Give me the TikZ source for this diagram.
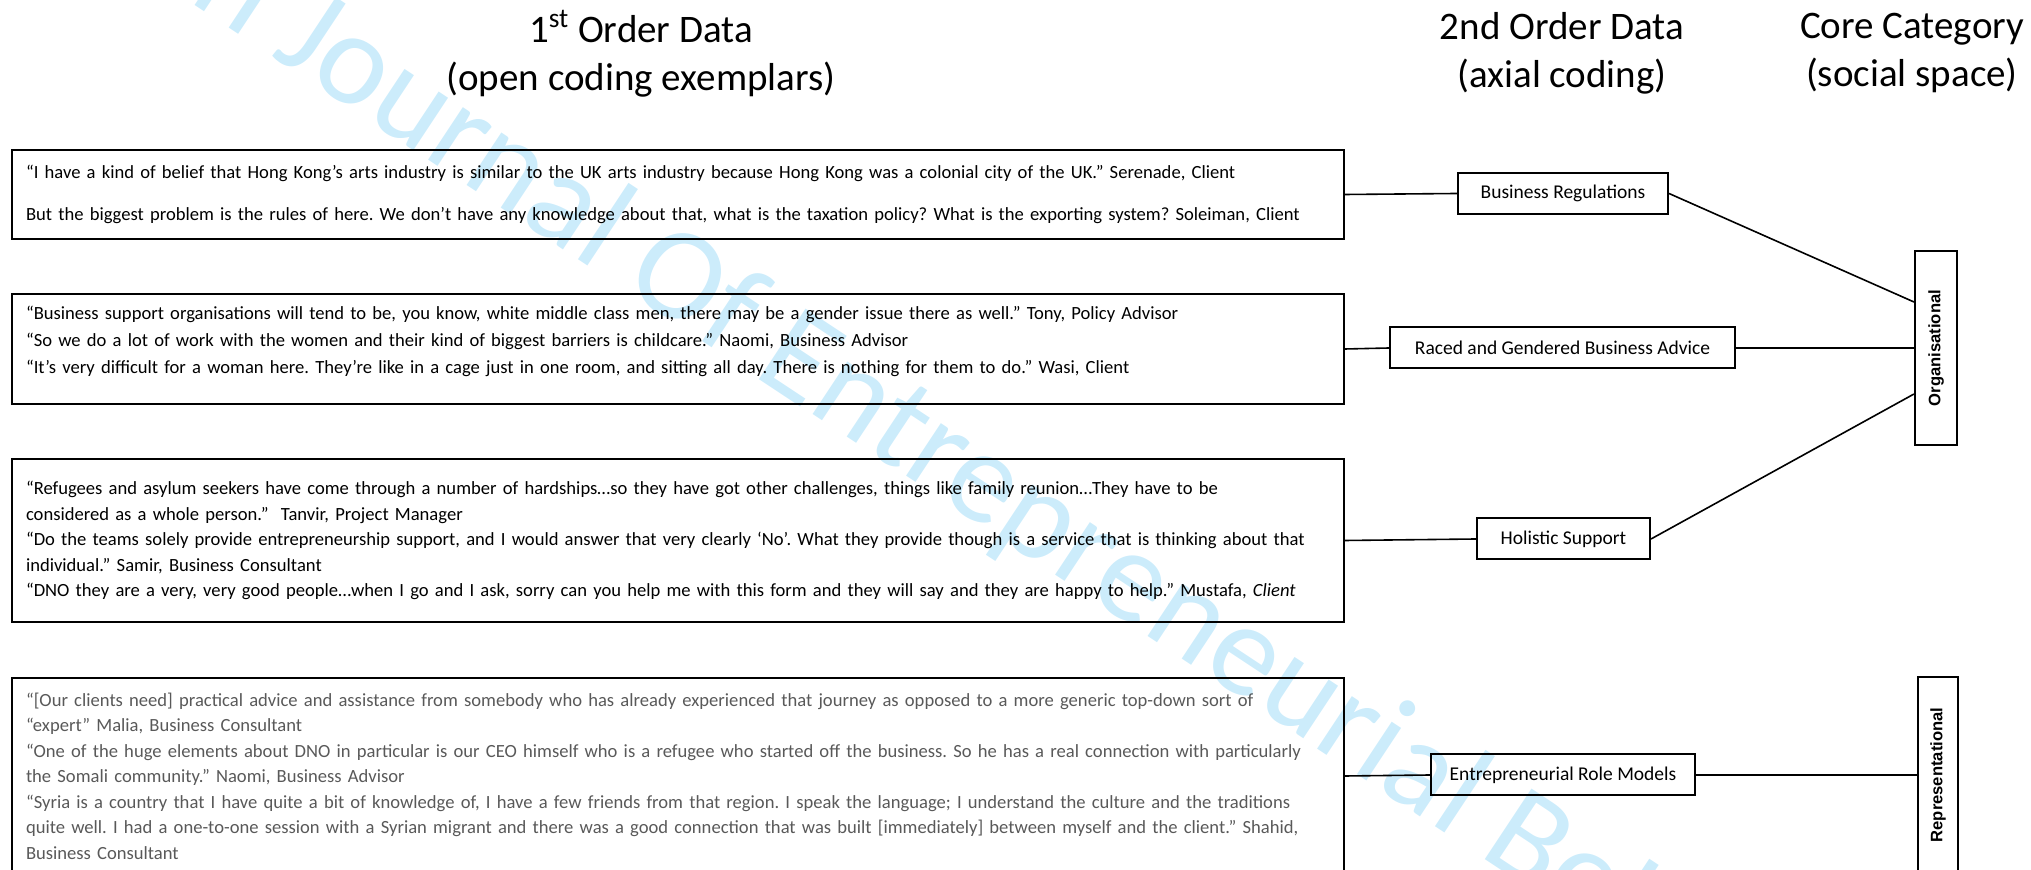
\documentclass[tikz,border=0pt]{standalone}
\usepackage{fontspec}
\setmainfont{Carlito}
\newfontfamily\corefont{Liberation Sans}
\definecolor{wmblue}{RGB}{204,236,251}
\definecolor{quotegrey}{RGB}{89,89,89}

\begin{document}
\frenchspacing
\begin{tikzpicture}[x=0.5pt, y=-0.5pt]
    \tikzstyle{every node}=[align = center]
    \tikzstyle{quote} = [draw, line width=1pt, anchor=north west, text width=652pt, inner xsep=7pt, inner ysep=0pt, align=left, font=\fontsize{9.3}{12.75}\selectfont]
    \tikzstyle{code} = [draw, line width=1pt, minimum height=20.5pt, inner xsep=0pt, font=\fontsize{9.75}{12}\selectfont]
    \tikzstyle{core} = [draw, line width=1pt, inner sep=0pt, font=\corefont\bfseries\fontsize{8.3}{10}\selectfont]
    \tikzstyle{heading} = [font=\fontsize{19.5}{24}\selectfont]
    \tikzstyle{link} = [line width=0.8pt]
    \useasboundingbox (0,0) rectangle (2031,870);
    \node[rotate=-33.5, anchor=base west, text=wmblue, font=\fontsize{66}{66}\selectfont] (mark) at (182,-3) {n Journal Of Entrepreneurial Beh};

    \node[heading] (first) at (641,54) {1\textsuperscript{st} Order Data\\(open coding exemplars)};
    \node[heading] (second) at (1562,53) {2nd Order Data\\(axial coding)};
    \node[heading] (third) at (1912,53) {Core Category\\(social space)};

    \node[quote, minimum height=44.5pt] (q1) at (11,149) {“I have a kind of belief that Hong Kong’s arts industry is similar to the UK arts industry because Hong Kong was a colonial city of the UK.” Serenade, Client\\[8.25pt]
        But the biggest problem is the rules of here. We don’t have any knowledge about that, what is the taxation policy? What is the exporting system? Soleiman, Client};
    \node[quote, minimum height=55pt] (q2) at (11,293) {“Business support organisations will tend to be, you know, white middle class men, there may be a gender issue there as well.” Tony, Policy Advisor\\[0.75pt]
        “So we do a lot of work with the women and their kind of biggest barriers is childcare.” Naomi, Business Advisor\\[0.75pt]
        “It’s very difficult for a woman here. They’re like in a cage just in one room, and sitting all day. There is nothing for them to do.” Wasi, Client\\[-4pt]\mbox{}};
    \node[quote, minimum height=81.5pt] (q3) at (11,458) {“Refugees and asylum seekers have come through a number of hardships…so they have got other challenges, things like family reunion…They have to be\\
        considered as a whole person.”~ Tanvir, Project Manager\\
        “Do the teams solely provide entrepreneurship support, and I would answer that very clearly ‘No’. What they provide though is a service that is thinking about that\\
        individual.” Samir, Business Consultant\\
        “DNO they are a very, very good people…when I go and I ask, sorry can you help me with this form and they will say and they are happy to help.” Mustafa, \textit{Client}};
    \node[quote, minimum height=98pt, text=quotegrey] (q4) at (11,677) {“[Our clients need] practical advice and assistance from somebody who has already experienced that journey as opposed to a more generic top-down sort of\\
        “expert” Malia, Business Consultant\\
        “One of the huge elements about DNO in particular is our CEO himself who is a refugee who started off the business. So he has a real connection with particularly\\
        the Somali community.” Naomi, Business Advisor\\
        “Syria is a country that I have quite a bit of knowledge of, I have a few friends from that region. I speak the language; I understand the culture and the traditions\\
        quite well. I had a one-to-one session with a Syrian migrant and there was a good connection that was built [immediately] between myself and the client.” Shahid,\\
        Business Consultant};

    \node[code, minimum width=105pt] (br) at (1563,193.5) {Business Regulations};
    \node[code, minimum width=172.5pt] (rg) at (1562.5,348) {Raced and Gendered Business Advice};
    \node[code, minimum width=86.5pt] (hs) at (1563.5,539) {Holistic Support};
    \node[code, minimum width=132pt] (erm) at (1563,775) {Entrepreneurial Role Models};

    \node[core, minimum width=21pt, minimum height=97pt] (org) at (1936,348) {\rotatebox{90}{Organisational}};
    \node[core, minimum width=20pt, minimum height=98pt] (rep) at (1938,775) {\rotatebox{90}{Representational}};

    \draw[link] (q1.east) -- (br.west);
    \draw[link] (br.east) -- ([yshift=23pt]org.west);
    \draw[link] (q2.east) -- (rg.west);
    \draw[link] (rg.east) -- (org.west);
    \draw[link] (q3.east) -- (hs.west);
    \draw[link] (hs.east) -- ([yshift=-23pt]org.west);
    \draw[link] (q4.east) -- (erm.west);
    \draw[link] (erm.east) -- (rep.west);
\end{tikzpicture}
\end{document}
